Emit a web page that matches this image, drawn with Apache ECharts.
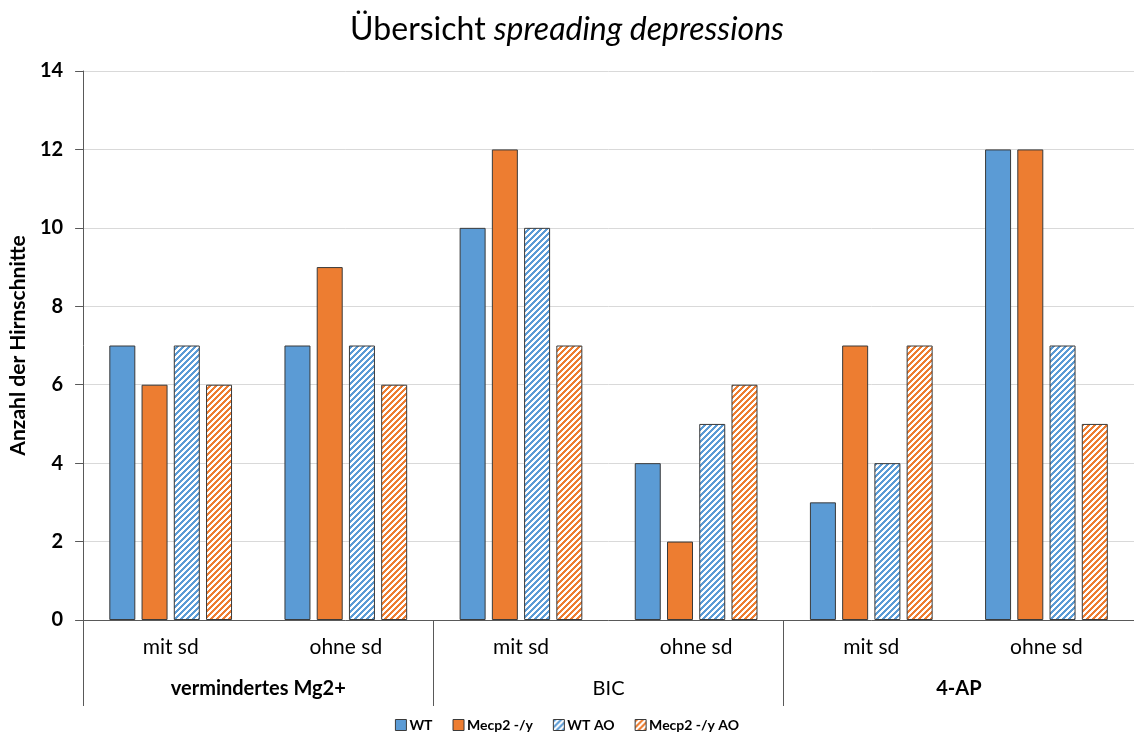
<!DOCTYPE html>
<html>
<head>
<meta charset="utf-8">
<script src="https://cdn.jsdelivr.net/npm/echarts@6/dist/echarts.min.js"></script>
<style>
  html, body { margin: 0; padding: 0; background: #fff; }
  #chart { width: 1134px; height: 738px; }
</style>
</head>
<body>
<div id="chart"></div>
<script>
// Sub-categories (inner axis) and treatment groups (outer axis)
const subCategories = ['mit sd', 'ohne sd', 'mit sd', 'ohne sd', 'mit sd', 'ohne sd'];
const groups = ['vermindertes Mg2+', 'BIC', '4-AP'];
const boldGroups = ['vermindertes Mg2+', '4-AP'];

// Number of brain slices per condition
const seriesNames = ['WT', 'Mecp2 -/y', 'WT AO', 'Mecp2 -/y AO'];
const wt        = [7, 7, 10, 4, 3, 12];
const mecp2     = [6, 9, 12, 2, 7, 12];
const wtAO      = [7, 7, 10, 5, 4, 7];
const mecp2AO   = [6, 6, 7, 6, 7, 5];

const yTicks = { min: 0, max: 14, interval: 2 };

const BLUE = '#5B9BD5';
const ORANGE = '#ED7D31';
const FONT = 'Lato, "Liberation Sans", sans-serif';

// Diagonal "/" stripe fill used for the AO series
function stripes(color) {
  const n = 6;
  const c = document.createElement('canvas');
  c.width = n; c.height = n;
  const ctx = c.getContext('2d');
  ctx.fillStyle = '#ffffff';
  ctx.fillRect(0, 0, n, n);
  ctx.fillStyle = color;
  for (let x = 0; x < n; x++) {
    for (let y = 0; y < n; y++) {
      if ((x + y) % n < 3) ctx.fillRect(x, y, 1, 1);
    }
  }
  return { image: c, repeat: 'repeat' };
}

const chart = echarts.init(document.getElementById('chart'), null, { renderer: 'canvas' });

function bar(name, data, fill) {
  return {
    name: name,
    type: 'bar',
    data: data,
    barWidth: 26,
    barGap: '24%',
    itemStyle: { color: fill, borderColor: '#3a3a3a', borderWidth: 1 },
    emphasis: { disabled: true }
  };
}

chart.setOption({
  animation: false,
  backgroundColor: '#ffffff',
  title: {
    text: '{n|Übersicht }{i|spreading depressions}',
    left: 'center',
    top: 9,
    textStyle: {
      fontWeight: 'normal',
      rich: {
        n: { fontFamily: FONT, fontSize: 32, fontWeight: 'normal', color: '#000' },
        i: { fontFamily: FONT, fontSize: 32, fontWeight: 'normal', fontStyle: 'italic', color: '#000' }
      }
    }
  },
  legend: {
    bottom: 1,
    left: 'center',
    itemWidth: 11,
    itemHeight: 11,
    itemGap: 20,
    icon: 'rect',
    textStyle: { fontFamily: FONT, fontSize: 14, fontWeight: 'bold', color: '#000', padding: [0, 0, 0, -2] },
    itemStyle: { borderColor: '#3a3a3a', borderWidth: 1 },
    data: seriesNames
  },
  grid: { left: 81, right: -2, top: 71, bottom: 118, containLabel: false },
  xAxis: [
    {
      type: 'category',
      data: subCategories,
      position: 'bottom',
      axisLine: { show: true, lineStyle: { color: '#595959', width: 1 } },
      axisTick: { show: false },
      axisLabel: { fontFamily: FONT, fontSize: 21, color: '#000', margin: 17 }
    },
    {
      type: 'category',
      data: groups,
      position: 'bottom',
      offset: 0,
      axisLine: { show: false },
      axisTick: { show: true, length: 86, interval: 0, lineStyle: { color: '#595959', width: 1 } },
      axisLabel: {
        fontFamily: FONT, fontSize: 20, color: '#000', margin: 59, interval: 0,
        formatter: v => boldGroups.includes(v) ? '{b|' + v + '}' : v,
        rich: { b: { fontFamily: FONT, fontSize: 20, fontWeight: 'bold', color: '#000' } }
      }
    }
  ],
  yAxis: {
    type: 'value',
    min: yTicks.min,
    max: yTicks.max,
    interval: yTicks.interval,
    name: 'Anzahl der Hirnschnitte',
    nameLocation: 'middle',
    nameGap: 53,
    nameTextStyle: { fontFamily: FONT, fontSize: 21, fontWeight: 'bold', color: '#000' },
    axisLine: { show: true, lineStyle: { color: '#595959', width: 1 } },
    axisTick: { show: true, length: 8, inside: false, lineStyle: { color: '#595959' } },
    axisLabel: { fontFamily: FONT, fontSize: 20, fontWeight: 'bold', color: '#000', margin: 20 },
    splitLine: { show: true, lineStyle: { color: '#D9D9D9', width: 1 } }
  },
  series: [
    bar(seriesNames[0], wt, BLUE),
    bar(seriesNames[1], mecp2, ORANGE),
    bar(seriesNames[2], wtAO, stripes(BLUE)),
    bar(seriesNames[3], mecp2AO, stripes(ORANGE))
  ]
});
</script>
</body>
</html>
